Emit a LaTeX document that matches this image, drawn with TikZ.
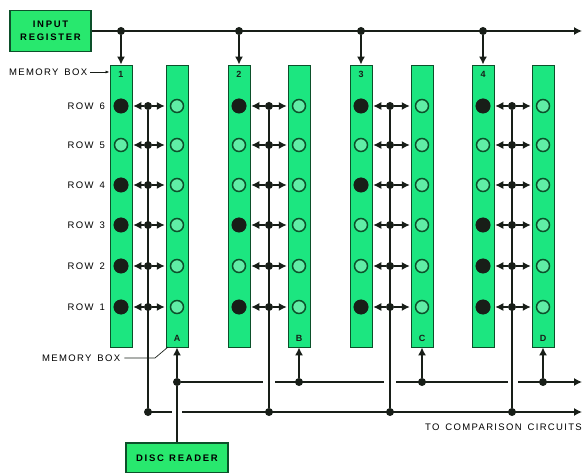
\documentclass[tikz,border=0pt]{standalone}
\usepackage{fontspec}
\setmainfont{Liberation Sans}
\newfontfamily\spacedfont[LetterSpace=14,WordSpace=1.5]{Liberation Sans}
\newfontfamily\boldfont[LetterSpace=18,WordSpace=1.2]{Liberation Sans}
\usepackage{xcolor}
\usetikzlibrary{arrows.meta,positioning}
\definecolor{boxgreen}{RGB}{28,230,128}
\definecolor{regreen}{RGB}{40,232,110}
\definecolor{inkdark}{RGB}{24,30,24}
\definecolor{ringgreen}{RGB}{12,80,42}

\begin{document}
\begin{tikzpicture}[
  x=1pt, y=-1pt,
  font=\spacedfont\fontsize{9.5}{10}\selectfont,
  membox/.style={draw=ringgreen, line width=0.9pt, fill=boxgreen, minimum width=22pt, minimum height=282pt, inner sep=0pt},
  ctrlbox/.style={draw=ringgreen, line width=1.2pt, fill=regreen, align=center, inner sep=0pt, font=\boldfont\bfseries\fontsize{9.5}{13}\selectfont},
  hole/.style={circle, draw=ringgreen, line width=1.5pt, fill=boxgreen!70!white, minimum size=13pt, inner sep=0pt},
  full/.style={circle, fill=inkdark, minimum size=15pt, inner sep=0pt},
  joint/.style={circle, fill=inkdark, minimum size=8pt, inner sep=0pt},
  boxmark/.style={inner sep=0pt, font=\boldfont\bfseries\fontsize{9}{10}\selectfont, text=inkdark},
  rowlabel/.style={anchor=east, inner sep=0pt},
  line/.style={draw=inkdark, line width=1.3pt},
  thinline/.style={draw=inkdark, line width=0.7pt},
  >={Latex[length=8pt,width=8pt]}
]
  \useasboundingbox (0,0) rectangle (584,473);

  \node[ctrlbox, minimum width=81pt, minimum height=41pt] (reg) at (50.5,31) {INPUT\\REGISTER};
  \node[ctrlbox, minimum width=102pt, minimum height=30pt] (disc) at (177,458) {DISC READER};

  % memory boxes, one pair per column
  \foreach \col/\x/\other/\ox/\bus in {1/121/A/177/148, 2/239/B/299/269, 3/361/C/422/390, 4/483/D/543/512} {
    \node[membox] (box\col) at (\x,206) {};
    \node[membox] (box\other) at (\ox,206) {};
    \node[boxmark] (mark\col) at (\x,74) {\col};
    \node[boxmark] (mark\other) at (\ox,338) {\other};
    \foreach \r/\y in {6/106, 5/145, 4/185, 3/225, 2/266, 1/307} {
      \node[hole] (c\col r\r) at (\x,\y) {};
      \node[hole] (c\other r\r) at (\ox,\y) {};
      \node[joint] (j\col r\r) at (\bus,\y) {};
      \draw[line, ->, shorten >=5pt] (j\col r\r) -- (c\col r\r);
      \draw[line, ->, shorten >=5pt] (j\col r\r) -- (c\other r\r);
    }
    \node[joint] (top\col) at (\x,31) {};
    \node[joint] (read\other) at (\ox,382) {};
    \node[joint] (cmp\col) at (\bus,412) {};
    \draw[line, ->] (top\col) -- (box\col.north);
    \draw[line, ->] (read\other) -- (box\other.south);
    \draw[line] (j\col r6) -- (cmp\col);
  }

  % stored ones
  \foreach \col/\r in {1/6,1/4,1/3,1/2,1/1, 2/6,2/3,2/1, 3/6,3/4,3/1, 4/6,4/3,4/2,4/1} {
    \node[full] (f\col r\r) at (c\col r\r) {};
  }

  \coordinate (topend) at (582,31);
  \draw[line, ->] (reg) -- (topend);

  \draw[line] (disc) -- (readA);

  % disc line breaks where it passes the buses
  \coordinate (gapa) at (263,382);
  \coordinate (gapb) at (275,382);
  \coordinate (gapc) at (384,382);
  \coordinate (gapd) at (396,382);
  \coordinate (gape) at (508,382);
  \coordinate (gapf) at (518,382);
  \coordinate (readend) at (582,382);
  \draw[line] (readA) -- (gapa);
  \draw[line] (gapb) -- (gapc);
  \draw[line] (gapd) -- (gape);
  \draw[line, ->] (gapf) -- (readend);

  \coordinate (cmpstart) at (172,412);
  \coordinate (cmpresume) at (182,412);
  \coordinate (cmpend) at (582,412);
  \draw[line] (cmp1.center) -- (cmpstart);
  \draw[line, ->] (cmpresume) -- (cmpend);

  \foreach \r/\y in {6/106, 5/145, 4/185, 3/225, 2/266, 1/307} {
    \node[rowlabel] (row\r) at (105,\y) {ROW \r};
  }

  \node[anchor=west, inner sep=0pt] (memtop) at (9,72) {MEMORY BOX};
  \draw[thinline, ->, >={Latex[length=4pt,width=3pt]}, shorten <=3pt] (memtop) -- (box1.west |- memtop);

  \node[anchor=west, inner sep=0pt] (membot) at (42,358) {MEMORY BOX};
  \coordinate (membend) at (155,358);
  \coordinate (memtip) at (168,347);
  \draw[thinline, shorten <=4pt] (membot) -- (membend) -- (memtip);

  \node[anchor=east, inner sep=0pt] (cmptext) at (582,427) {TO COMPARISON CIRCUITS};
\end{tikzpicture}
\end{document}
